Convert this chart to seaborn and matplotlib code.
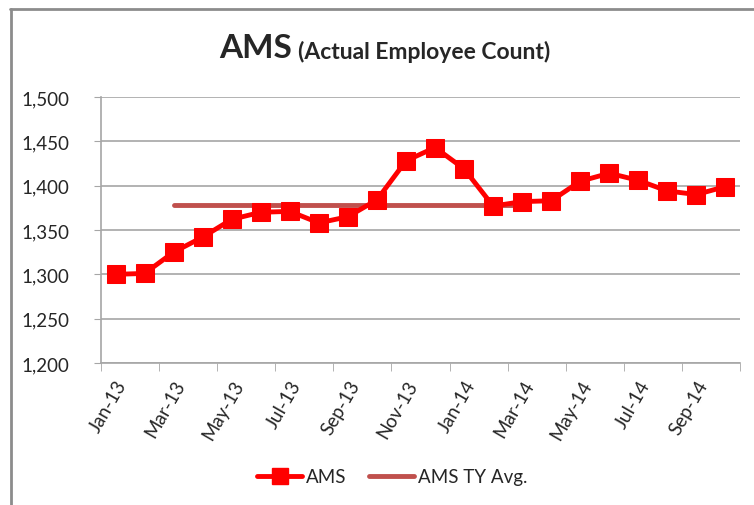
import numpy as np
import pandas as pd
import matplotlib
matplotlib.use('Agg')
from matplotlib import pyplot as plt
from matplotlib.lines import Line2D
import seaborn as sns

# monthly employee counts
months = ['Jan-13', 'Feb-13', 'Mar-13', 'Apr-13', 'May-13', 'Jun-13', 'Jul-13', 'Aug-13',
          'Sep-13', 'Oct-13', 'Nov-13', 'Dec-13', 'Jan-14', 'Feb-14', 'Mar-14', 'Apr-14',
          'May-14', 'Jun-14', 'Jul-14', 'Aug-14', 'Sep-14', 'Oct-14']
ams = [1300, 1301, 1325, 1342, 1362, 1370, 1371, 1358, 1365, 1384, 1428,
       1443, 1419, 1377, 1382, 1383, 1405, 1414, 1406, 1394, 1390, 1399]
# TY average, drawn from Mar-13 to Mar-14
avg_months = ['Mar-13', 'Apr-13', 'May-13', 'Jun-13', 'Jul-13', 'Aug-13', 'Sep-13',
              'Oct-13', 'Nov-13', 'Dec-13', 'Jan-14', 'Feb-14', 'Mar-14']
avg_values = [1378, 1378, 1378, 1378, 1378, 1378, 1378, 1378, 1378, 1378, 1378, 1378, 1378]
y_ticks = [1200, 1250, 1300, 1350, 1400, 1450, 1500]

sns.set_style('white')
plt.rcParams['font.family'] = ['Lato', 'DejaVu Sans']

df = pd.DataFrame({'pos': range(len(months)), 'month': months, 'AMS': ams})
avg_df = pd.DataFrame({'pos': [months.index(m) for m in avg_months], 'avg': avg_values})

fig = plt.figure(figsize=(7.54, 5.06), dpi=100)
ax = fig.add_axes([101/754, 1 - 364/506, (740 - 101)/754, (364 - 98)/506])

sns.lineplot(data=avg_df, x='pos', y='avg', ax=ax, color='#C0504D', linewidth=3.5,
             solid_capstyle='round', zorder=2)
sns.lineplot(data=df, x='pos', y='AMS', ax=ax, color='#FF0000', linewidth=3.5,
             marker='s', markersize=13, markeredgecolor='#FF0000', zorder=3)

ax.set_xlim(-0.5, len(months) - 0.5)
ax.set_ylim(1200, 1500)
ax.set_yticks(y_ticks)
ax.set_yticklabels(['{:,}'.format(v) for v in y_ticks], fontsize=13.5)
ax.yaxis.grid(True, color='#A6A6A6', linewidth=1.2)
ax.set_axisbelow(True)

ax.set_xticks(df['pos'][::2])
ax.set_xticklabels(df['month'][::2], rotation=60, ha='right', rotation_mode='anchor', fontsize=13.5)
ax.set_xticks(np.arange(-0.5, len(months), 2), minor=True)
ax.tick_params(axis='x', which='major', length=0, pad=10)
ax.tick_params(axis='x', which='minor', length=6, color='#A6A6A6', direction='out', bottom=True)
ax.tick_params(axis='y', length=5, color='#A6A6A6', direction='out', left=True, pad=18)
ax.set_xlabel('')
ax.set_ylabel('')

for s in ['top', 'right']:
    ax.spines[s].set_visible(False)
for s in ['left', 'bottom']:
    ax.spines[s].set_color('#A6A6A6')
    ax.spines[s].set_linewidth(1.2)

fig.text(292/754, 1 - 49/506, 'AMS', fontsize=24, fontweight='bold', ha='right', va='center')
fig.text(298/754, 1 - 52/506, '(Actual Employee Count)', fontsize=16.5, fontweight='bold',
         ha='left', va='center')

handles = [Line2D([], [], color='#FF0000', linewidth=3.5, marker='s', markersize=12),
           Line2D([], [], color='#C0504D', linewidth=3.5)]
fig.legend(handles, ['AMS', 'AMS TY Avg.'], loc='center', bbox_to_anchor=(392/754, 1 - 478/506),
           ncol=2, frameon=False, fontsize=13.5, handlelength=2.4, columnspacing=1.2, handletextpad=0.2)

# outer chart frame (left and top edges visible)
fig.add_artist(Line2D([10.5/754, 10.5/754], [0, 1 - 10/506], color='#8C8C8C', linewidth=2))
fig.add_artist(Line2D([10/754, 1], [1 - 10/506, 1 - 10/506], color='#8C8C8C', linewidth=2))

fig.savefig('out.png', dpi=100)
